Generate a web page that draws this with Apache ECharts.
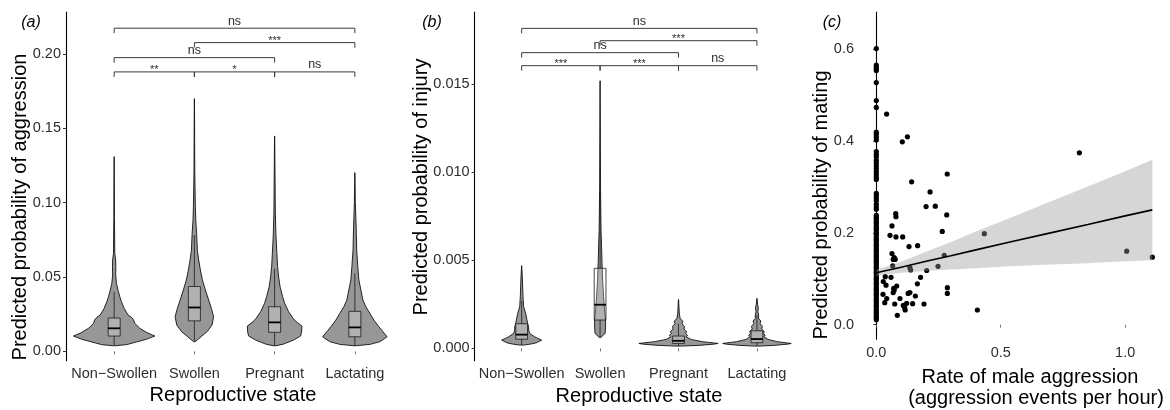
<!DOCTYPE html>
<html><head><meta charset="utf-8">
<script src="https://cdn.jsdelivr.net/npm/echarts@6/dist/echarts.min.js"></script>
<style>html,body{margin:0;padding:0;background:#fff}#c{width:1170px;height:410px}</style>
</head><body><div id="c"></div>
<script>
// ---------- DATA ----------
const categories = ['Non\u2212Swollen', 'Swollen', 'Pregnant', 'Lactating'];

// Panel (a): violin density profiles [predicted probability, half-width (fraction of category spacing)]
const aggrNonSwollen = [[0.0038,0.02],[0.0045,0.155],[0.0063,0.278],[0.0081,0.402],[0.0103,0.507],[0.0125,0.411],[0.0155,0.32],[0.0188,0.257],[0.0211,0.243],[0.0229,0.216],[0.0244,0.174],[0.0289,0.125],[0.0334,0.091],[0.0367,0.071],[0.0408,0.05],[0.0457,0.029],[0.0513,0.019],[0.0569,0.021],[0.0614,0.019],[0.066,0.008],[0.09,0.004],[0.131,0.001]];
const aggrSwollen = [[0.0065,0.01],[0.0098,0.083],[0.0132,0.158],[0.0177,0.22],[0.0233,0.24],[0.0289,0.212],[0.0345,0.178],[0.0413,0.137],[0.048,0.1],[0.0547,0.075],[0.0614,0.054],[0.068,0.037],[0.0794,0.028],[0.0884,0.017],[0.0973,0.012],[0.12,0.005],[0.17,0.001]];
const aggrPregnant = [[0.0038,0.02],[0.0049,0.112],[0.0076,0.237],[0.0103,0.324],[0.013,0.336],[0.017,0.34],[0.0199,0.27],[0.0222,0.23],[0.0267,0.174],[0.0323,0.125],[0.0367,0.1],[0.0435,0.068],[0.05,0.05],[0.057,0.037],[0.066,0.028],[0.079,0.016],[0.093,0.009],[0.1449,0.001]];
const aggrLactating = [[0.0038,0.02],[0.0047,0.19],[0.0065,0.311],[0.0087,0.374],[0.0098,0.402],[0.0132,0.349],[0.0166,0.299],[0.021,0.237],[0.0256,0.187],[0.03,0.137],[0.0345,0.1],[0.0413,0.075],[0.048,0.05],[0.057,0.037],[0.068,0.023],[0.0838,0.016],[0.1,0.006],[0.1202,0.001]];
// Panel (a): box statistics
const aggrQ1 = [0.0103, 0.0205, 0.0128, 0.0098];
const aggrMedian = [0.0155, 0.0295, 0.0195, 0.0161];
const aggrQ3 = [0.0224, 0.0436, 0.030, 0.0269];
const aggrWhiskerLow = [0.0038, 0.0065, 0.0038, 0.0038];
const aggrWhiskerHigh = [0.040, 0.0783, 0.0556, 0.0525];
// Panel (a): significance brackets [from category, to category, y, label]
const aggrBrackets = [[1,2,0.188,'**'],[2,3,0.188,'*'],[3,4,0.188,'ns'],[1,3,0.1976,'ns'],[2,4,0.2077,'***'],[1,4,0.2174,'ns']];

// Panel (b): violin density profiles
const injNonSwollen = [[0.00019,0.03],[0.00025,0.12],[0.00032,0.19],[0.00047,0.255],[0.00058,0.2],[0.00066,0.166],[0.00085,0.102],[0.00104,0.089],[0.00123,0.089],[0.00142,0.076],[0.0017,0.064],[0.00199,0.051],[0.00236,0.025],[0.00293,0.017],[0.00388,0.01],[0.0047,0.001]];
const injSwollen = [[0.00062,0.01],[0.00085,0.064],[0.00123,0.07],[0.00161,0.07],[0.00218,0.057],[0.00293,0.045],[0.00388,0.032],[0.00483,0.025],[0.00577,0.019],[0.00672,0.012],[0.009,0.006],[0.0152,0.001]];
const injPregnant = [[0.00013,0.03],[0.00017,0.26],[0.00024,0.45],[0.00028,0.505],[0.00038,0.306],[0.00051,0.157],[0.00066,0.1],[0.00075,0.115],[0.00085,0.09],[0.00095,0.105],[0.0011,0.07],[0.00125,0.075],[0.0014,0.045],[0.00155,0.055],[0.0017,0.02],[0.002,0.01],[0.00278,0.001]];
const injLactating = [[0.00013,0.03],[0.00017,0.22],[0.00024,0.39],[0.00028,0.437],[0.00038,0.26],[0.00051,0.14],[0.00066,0.09],[0.00075,0.105],[0.00085,0.08],[0.00095,0.095],[0.0011,0.06],[0.00125,0.07],[0.0014,0.04],[0.00155,0.05],[0.0017,0.022],[0.0019,0.02],[0.0021,0.012],[0.0023,0.018],[0.0025,0.008],[0.00284,0.001]];
const injQ1 = [0.00052, 0.00161, 0.00028, 0.00032];
const injMedian = [0.00078, 0.00248, 0.00043, 0.00053];
const injQ3 = [0.0014, 0.00455, 0.0007, 0.001];
const injWhiskerLow = [0.00019, 0.00062, 0.00013, 0.00013];
const injWhiskerHigh = [0.0027, 0.0089, 0.0014, 0.0019];
const injBrackets = [[1,2,0.01606,'***'],[2,3,0.01606,'***'],[3,4,0.01606,'ns'],[1,3,0.0168,'ns'],[2,4,0.01748,'***'],[1,4,0.01818,'ns']];

// Panel (c): points at zero aggression rate
const matingAtZeroRate = [0.601,0.565,0.561,0.557,0.553,0.527,0.488,0.473,0.419,0.414,0.408,0.402,0.377,0.371,0.366,0.358,0.352,0.346,0.340,0.333,0.327,0.321,0.316,0.286,0.281,0.276,0.270,0.262,0.256,0.251,
  0.238,0.234,0.231,0.226,0.222,0.219,0.214,0.210,0.207,0.202,0.198,0.195,0.190,0.186,0.183,0.178,0.174,0.171,0.166,0.162,0.159,0.154,0.150,0.147,0.142,0.138,0.135,0.130,0.126,0.123,0.118,0.114,0.111,0.106,0.102,0.099,0.094,0.090,0.087,0.082,0.078,0.075,0.070,0.066,0.063,0.058,0.054,0.051,0.046,0.042,0.039,0.034,0.030,0.027,0.022,0.018,0.015,0.011];
// Panel (c): points with non-zero aggression rate
const aggressionRate = [0.0415,0.1045,0.125,0.142,0.216,0.285,0.816,0.200,0.237,0.283,0.078,0.079,0.265,0.434,0.063,0.055,0.079,0.106,0.1315,0.166,0.063,0.072,0.076,0.068,0.273,0.066,0.135,0.138,0.2025,0.248,0.036,0.059,0.178,0.028,0.039,0.082,0.070,0.072,0.165,0.2855,0.2855,0.068,0.135,0.128,0.027,0.157,0.095,0.042,0.034,0.074,0.1085,0.122,0.146,0.1917,0.114,0.116,0.0844,0.406,1.006,1.109];
const matingProb = [0.4585,0.398,0.409,0.311,0.289,0.328,0.374,0.257,0.258,0.239,0.242,0.235,0.203,0.198,0.215,0.1945,0.191,0.191,0.170,0.172,0.155,0.146,0.142,0.142,0.151,0.128,0.124,0.119,0.118,0.127,0.1045,0.103,0.103,0.094,0.086,0.084,0.079,0.0755,0.089,0.0805,0.068,0.070,0.070,0.068,0.066,0.0625,0.057,0.057,0.048,0.045,0.042,0.0466,0.0457,0.045,0.037,0.032,0.0204,0.032,0.160,0.147];
// Panel (c): linear fit and confidence band
const fitX = [0, 0.05, 0.1, 0.2, 0.3, 0.4, 0.537, 0.7, 0.85, 1.0, 1.109];
const fitMean = [0.113, 0.119, 0.125, 0.138, 0.150, 0.163, 0.180, 0.200, 0.218, 0.237, 0.250];
const fitUpper = [0.120, 0.128, 0.137, 0.159, 0.180, 0.203, 0.232, 0.268, 0.301, 0.334, 0.359];
const fitLower = [0.106, 0.110, 0.113, 0.117, 0.120, 0.123, 0.127, 0.131, 0.134, 0.138, 0.140];

// ---------- CHART ----------
const FONT = '"Liberation Sans", Arial, sans-serif';
const TICK_TEXT = '#2e2e2e';
const chart = echarts.init(document.getElementById('c'));

function yAxis(gi, min, max, ticks, digits, margin) {
  return { type: 'value', gridIndex: gi, min: min, max: max,
    axisLine: { show: true, lineStyle: { color: '#000', width: 1.1 } },
    axisTick: { show: true, customValues: ticks, length: 3, lineStyle: { color: '#333', width: 1 } },
    axisLabel: { customValues: ticks, formatter: v => Number(v).toFixed(digits), color: TICK_TEXT, fontSize: 14.5, fontFamily: FONT, margin: margin },
    splitLine: { show: false } };
}
function catAxis(gi) {
  return { type: 'value', gridIndex: gi, min: 0.4, max: 4.6,
    axisLine: { show: false },
    axisTick: { show: true, customValues: [1,2,3,4], length: 3, lineStyle: { color: '#555', width: 0.8 } },
    axisLabel: { customValues: [1,2,3,4], formatter: v => categories[Math.round(v) - 1], color: TICK_TEXT, fontSize: 14.5, fontFamily: FONT, margin: 6 },
    splitLine: { show: false } };
}
function violinSeries(gi, profiles) {
  return { type: 'custom', xAxisIndex: gi, yAxisIndex: gi, z: 2, silent: true,
    data: profiles.map((p, i) => [i + 1]),
    renderItem: function (params, api) {
      const cx = api.value(0);
      const prof = profiles[params.dataIndex];
      const right = prof.map(d => api.coord([cx + d[1], d[0]]));
      const left = prof.slice().reverse().map(d => api.coord([cx - d[1], d[0]]));
      return { type: 'polygon', shape: { points: right.concat(left) },
        style: { fill: '#979797', stroke: '#111', lineWidth: 0.9 } };
    } };
}
function boxSeries(gi, q1, med, q3, lo, hi) {
  return { type: 'custom', xAxisIndex: gi, yAxisIndex: gi, z: 3, silent: true,
    data: q1.map((v, i) => [i + 1]),
    renderItem: function (params, api) {
      const i = params.dataIndex, x = api.value(0), hw = 0.075;
      const a = api.coord([x - hw, q3[i]]), b = api.coord([x + hw, q1[i]]);
      const m1 = api.coord([x - hw, med[i]]), m2 = api.coord([x + hw, med[i]]);
      const l = api.coord([x, lo[i]]), h = api.coord([x, hi[i]]);
      const q1p = api.coord([x, q1[i]]), q3p = api.coord([x, q3[i]]);
      const ls = { stroke: '#1a1a1a', lineWidth: 0.8 };
      return { type: 'group', children: [
        { type: 'line', shape: { x1: l[0], y1: l[1], x2: q1p[0], y2: q1p[1] }, style: ls },
        { type: 'line', shape: { x1: q3p[0], y1: q3p[1], x2: h[0], y2: h[1] }, style: ls },
        { type: 'rect', shape: { x: a[0], y: a[1], width: b[0] - a[0], height: b[1] - a[1] },
          style: { fill: 'rgba(255,255,255,0.25)', stroke: '#1a1a1a', lineWidth: 0.8 } },
        { type: 'line', shape: { x1: m1[0], y1: m1[1], x2: m2[0], y2: m2[1] }, style: { stroke: '#000', lineWidth: 1.8 } }
      ] };
    } };
}
function bracketSeries(gi, brackets) {
  return { type: 'custom', xAxisIndex: gi, yAxisIndex: gi, z: 5, silent: true,
    data: brackets.map((b, i) => [i]),
    renderItem: function (params, api) {
      const br = brackets[params.dataIndex];
      const p1 = api.coord([br[0], br[2]]), p2 = api.coord([br[1], br[2]]);
      const star = br[3].indexOf('*') >= 0;
      return { type: 'group', children: [
        { type: 'polyline', shape: { points: [[p1[0], p1[1] + 5], [p1[0], p1[1]], [p2[0], p2[1]], [p2[0], p2[1] + 5]] },
          style: { stroke: '#3a3a3a', lineWidth: 1, fill: null } },
        { type: 'text', x: (p1[0] + p2[0]) / 2, y: p1[1] + (star ? -1.5 : -7),
          style: { text: br[3], fontSize: star ? 11 : 12.5, fontFamily: FONT, fill: '#2e2e2e', align: 'center', verticalAlign: 'middle', textAlign: 'center', textVerticalAlign: 'middle' } }
      ] };
    } };
}

const scatterData = matingAtZeroRate.map(v => [0, v]).concat(aggressionRate.map((x, i) => [x, matingProb[i]]));

function txt(x, y, text, size, opts) {
  return Object.assign({ type: 'text', x: x, y: y, silent: true,
    style: Object.assign({ text: text, fontSize: size, fontFamily: FONT, fill: '#000', align: 'center', verticalAlign: 'middle', textAlign: 'center', textVerticalAlign: 'middle' }, (opts && opts.style) || {}) },
    (opts && opts.el) || {});
}

const option = {
  animation: false,
  backgroundColor: '#fff',
  grid: [
    { left: 66, right: 767, top: 12, bottom: 49.3, containLabel: false },
    { left: 474.6, right: 366, top: 12, bottom: 49.3, containLabel: false },
    { left: 860, right: 4.5, top: 12, bottom: 70.7, containLabel: false }
  ],
  xAxis: [
    catAxis(0), catAxis(1),
    { type: 'value', gridIndex: 2, min: -0.0655, max: 1.162,
      axisLine: { show: false },
      axisTick: { show: true, customValues: [0, 0.5, 1.0], length: 3, lineStyle: { color: '#555', width: 0.8 } },
      axisLabel: { customValues: [0, 0.5, 1.0], formatter: v => Number(v).toFixed(1), color: TICK_TEXT, fontSize: 14.5, fontFamily: FONT, margin: 6 },
      splitLine: { show: false } }
  ],
  yAxis: [
    yAxis(0, -0.0063, 0.2283, [0, 0.05, 0.1, 0.15, 0.2], 2, 5),
    yAxis(1, -0.0007, 0.01911, [0, 0.005, 0.01, 0.015], 3, 5),
    yAxis(2, -0.0318, 0.6806, [0, 0.2, 0.4, 0.6], 1, 6)
  ],
  series: [
    violinSeries(0, [aggrNonSwollen, aggrSwollen, aggrPregnant, aggrLactating]),
    boxSeries(0, aggrQ1, aggrMedian, aggrQ3, aggrWhiskerLow, aggrWhiskerHigh),
    bracketSeries(0, aggrBrackets),
    violinSeries(1, [injNonSwollen, injSwollen, injPregnant, injLactating]),
    boxSeries(1, injQ1, injMedian, injQ3, injWhiskerLow, injWhiskerHigh),
    bracketSeries(1, injBrackets),
    { type: 'scatter', xAxisIndex: 2, yAxisIndex: 2, z: 2, silent: true, symbol: 'circle', symbolSize: 5.2,
      itemStyle: { color: '#000', opacity: 1 }, data: scatterData },
    { type: 'custom', xAxisIndex: 2, yAxisIndex: 2, z: 3, silent: true, data: [[0]],
      renderItem: function (params, api) {
        const up = fitX.map((x, i) => api.coord([x, fitUpper[i]]));
        const lo = fitX.map((x, i) => api.coord([x, fitLower[i]])).reverse();
        return { type: 'polygon', shape: { points: up.concat(lo) }, style: { fill: 'rgba(153,153,153,0.4)' } };
      } },
    { type: 'line', xAxisIndex: 2, yAxisIndex: 2, z: 4, silent: true, symbol: 'none',
      lineStyle: { color: '#000', width: 1.7 }, data: fitX.map((x, i) => [x, fitMean[i]]) }
  ],
  graphic: [
    txt(31, 23, '(a)', 16, { style: { fontStyle: 'italic' } }),
    txt(432, 23, '(b)', 16, { style: { fontStyle: 'italic' } }),
    txt(832, 23, '(c)', 16, { style: { fontStyle: 'italic' } }),
    txt(20, 207, 'Predicted probability of aggression', 20, { el: { rotation: Math.PI / 2 } }),
    txt(421.5, 187, 'Predicted probability of injury', 20, { el: { rotation: Math.PI / 2 } }),
    txt(821.5, 205, 'Predicted probability of mating', 20, { el: { rotation: Math.PI / 2 } }),
    txt(233, 395, 'Reproductive state', 20),
    txt(639, 396, 'Reproductive state', 20),
    txt(1030, 377, 'Rate of male aggression', 20),
    txt(1036, 398, '(aggression events per hour)', 20)
  ]
};
chart.setOption(option);
</script>
</body></html>
